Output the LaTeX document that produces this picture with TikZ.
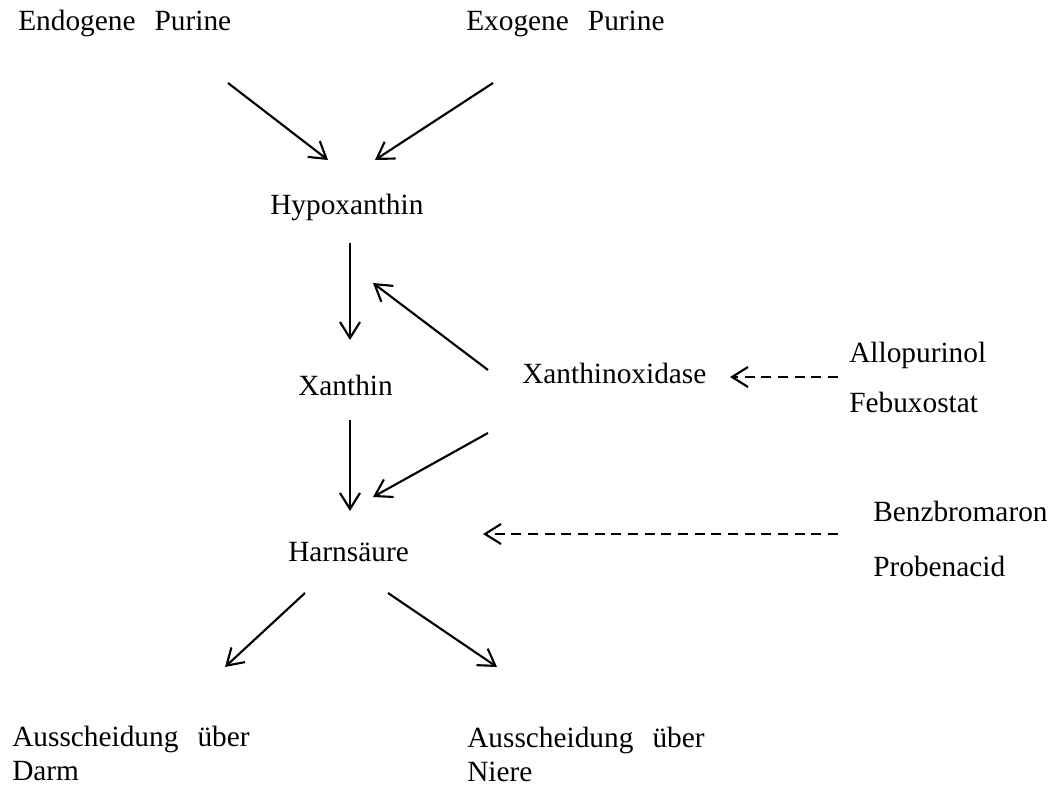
\documentclass[tikz,border=0pt]{standalone}
\usepackage{fontspec}
\setmainfont{Liberation Serif}
\usetikzlibrary{arrows.meta}
\newcommand{\gap}{\hspace{0.65em}}
\begin{document}
\begin{tikzpicture}[x=0.75pt, y=-0.75pt, lbl/.style={anchor=base west, inner sep=0pt, font=\fontsize{22}{25.5}\selectfont}, two/.style={lbl, anchor=north west, align=left}, arrow/.style={-{Straight Barb[length=12pt,width=15pt]}, line width=1.6pt}, inhib/.style={arrow, dash pattern=on 7.5pt off 5pt}]
\useasboundingbox (0,0) rectangle (1057,787);
\node[lbl] (endo) at (18,31) {Endogene\gap Purine};
\node[lbl] (exo) at (466,31) {Exogene\gap Purine};
\node[lbl] (hypo) at (270,215) {Hypoxanthin};
\node[lbl] (xan) at (298,396) {Xanthin};
\node[lbl] (xo) at (522,384) {Xanthinoxidase};
\node[lbl] (allo) at (849,363) {Allopurinol};
\node[lbl] (febu) at (849,413) {Febuxostat};
\node[lbl] (harn) at (288,562) {Harnsäure};
\node[lbl] (benz) at (873,522) {Benzbromaron};
\node[lbl] (prob) at (873,576) {Probenacid};
\node[two] (darm) at (12,726) {Ausscheidung\gap über\\Darm};
\node[two] (niere) at (467,727) {Ausscheidung\gap über\\Niere};
\draw[arrow] ([shift={(210,52)}]endo.base west) -- ([shift={(58,-55)}]hypo.base west);
\draw[arrow] ([shift={(27,52)}]exo.base west) -- ([shift={(105,-55)}]hypo.base west);
\draw[arrow] ([shift={(80,28)}]hypo.base west) -- ([shift={(52,-56)}]xan.base west);
\draw[arrow] ([shift={(52,24)}]xan.base west) -- ([shift={(62,-51)}]harn.base west);
\draw[arrow] ([shift={(-34,-14)}]xo.base west) -- ([shift={(103,68)}]hypo.base west);
\draw[arrow] ([shift={(-34,49)}]xo.base west) -- ([shift={(85,-65)}]harn.base west);
\draw[inhib] ([shift={(-11,14)}]allo.base west) -- ([shift={(208,-7)}]xo.base west);
\draw[arrow] ([shift={(17,31)}]harn.base west) -- ([shift={(213,-59)}]darm.north west);
\draw[arrow] ([shift={(100,31)}]harn.base west) -- ([shift={(30,-60)}]niere.north west);
\draw[inhib] ([shift={(-35,12)}]benz.base west) -- ([shift={(195,-28)}]harn.base west);
\end{tikzpicture}
\end{document}
